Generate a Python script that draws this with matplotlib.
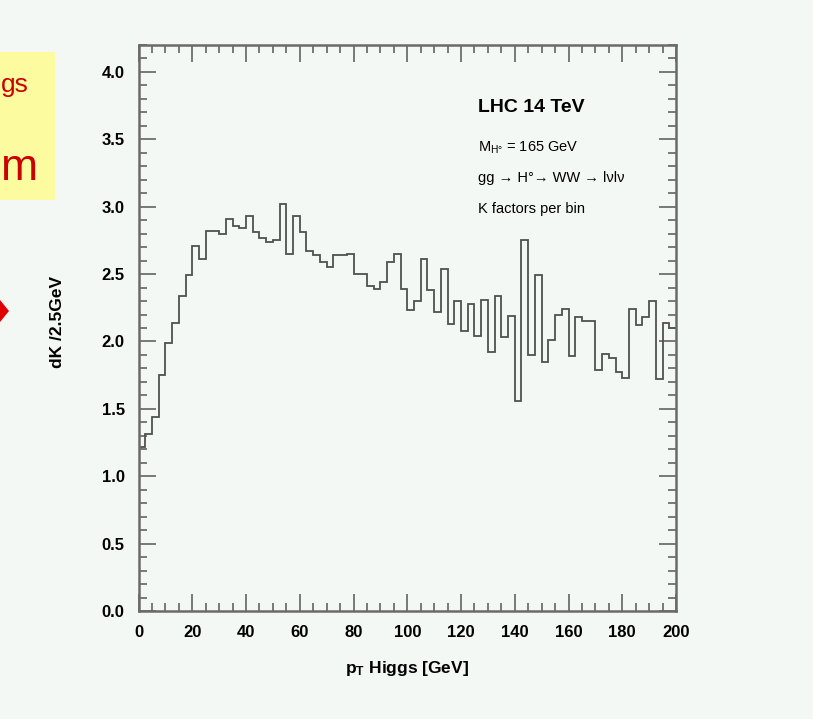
import numpy as np
import matplotlib
matplotlib.use("Agg")
import matplotlib.pyplot as plt
from matplotlib.patches import Polygon, Rectangle

# --- data: K factor per 2.5 GeV bin of Higgs pT ---
bin_width = 2.5
pt_max = 200
k_values = [1.22, 1.31, 1.44, 1.75, 1.99, 2.14, 2.34, 2.49, 2.71, 2.61,
            2.82, 2.82, 2.80, 2.91, 2.86, 2.84, 2.93, 2.81, 2.77, 2.74,
            2.75, 3.02, 2.65, 2.93, 2.81, 2.67, 2.64, 2.59, 2.55, 2.64,
            2.64, 2.65, 2.50, 2.50, 2.41, 2.39, 2.44, 2.59, 2.65, 2.39,
            2.23, 2.30, 2.61, 2.38, 2.22, 2.54, 2.13, 2.30, 2.08, 2.28,
            2.04, 2.31, 1.92, 2.34, 2.03, 2.19, 1.56, 2.75, 1.90, 2.49,
            1.85, 2.01, 2.20, 2.24, 1.89, 2.18, 2.15, 2.15, 1.79, 1.91,
            1.88, 1.77, 1.73, 2.24, 2.12, 2.18, 2.30, 1.72, 2.14, 2.10]
x_ticks = [0, 20, 40, 60, 80, 100, 120, 140, 160, 180, 200]
y_ticks = [0.0, 0.5, 1.0, 1.5, 2.0, 2.5, 3.0, 3.5, 4.0]

edges = np.arange(0, pt_max + bin_width / 2, bin_width)

plt.rcParams['font.family'] = ['Liberation Sans', 'DejaVu Sans']
plt.rcParams['mathtext.default'] = 'regular'

bg = '#f4f8f5'
fig = plt.figure(figsize=(8.13, 7.19), dpi=100, facecolor=bg)
ax = fig.add_axes([0.1704, 0.1502, 0.6611, 0.7872])
ax.set_facecolor(bg)

ax.stairs(k_values, edges, baseline=None, color='#505050', lw=1.3)

ax.set_xlim(0, pt_max)
ax.set_ylim(0, 4.2)
ax.set_xticks(x_ticks)
ax.set_yticks(y_ticks)
ax.set_xticks(np.arange(0, pt_max + 1, 5), minor=True)
ax.set_yticks(np.arange(0, 4.21, 0.1), minor=True)
ax.set_yticklabels([f'{v:.1f}' for v in y_ticks])

ax.tick_params(which='both', direction='in', top=True, right=True,
               color='#555555', width=1.1)
ax.tick_params(which='major', length=12, labelsize=12, pad=10)
ax.tick_params(which='minor', length=5.5)
for lab in ax.get_xticklabels() + ax.get_yticklabels():
    lab.set_fontweight('bold')

for sp in ax.spines.values():
    sp.set_color('#6a6a6a')
    sp.set_linewidth(1.8)

ax.set_xlabel(r'p$_T$ Higgs [GeV]', fontsize=12.5, fontweight='bold')
ax.set_ylabel('dK /2.5GeV', fontsize=12.5, fontweight='bold')
ax.xaxis.set_label_coords(0.5, -0.085)
ax.yaxis.set_label_coords(-0.137, 0.51)

ax.text(0.632, 0.882, 'LHC 14 TeV', transform=ax.transAxes,
        fontsize=14, fontweight='bold', va='baseline')
ax.text(0.632, 0.8115, 'M$_{H°}$ = 165 GeV', transform=ax.transAxes,
        fontsize=10.5, va='baseline')
ax.text(0.632, 0.7585, 'gg → H°→ WW → lνlν', transform=ax.transAxes,
        fontsize=10.5, va='baseline')
ax.text(0.632, 0.7026, 'K factors per bin', transform=ax.transAxes,
        fontsize=10.5, va='baseline')

# slide decorations at the left edge
W, H = 813, 719
fig.patches.append(Rectangle((0, 1 - 200 / H), 55 / W, 148 / H,
                             transform=fig.transFigure, facecolor='#fdfba0',
                             edgecolor='none', zorder=0))
fig.text(1 / W, 1 - 92 / H, 'gs', color='#cc0000', fontsize=19,
         ha='left', va='baseline')
fig.text(1 / W, 1 - 180 / H, 'm', color='#cc0000', fontsize=32,
         ha='left', va='baseline')
fig.patches.append(Polygon([(0, 1 - 300 / H), (9 / W, 1 - 311 / H),
                            (0, 1 - 322 / H)], closed=True,
                           transform=fig.transFigure, facecolor='#e00000',
                           edgecolor='none'))

fig.savefig('out.png', dpi=100, facecolor=bg)
